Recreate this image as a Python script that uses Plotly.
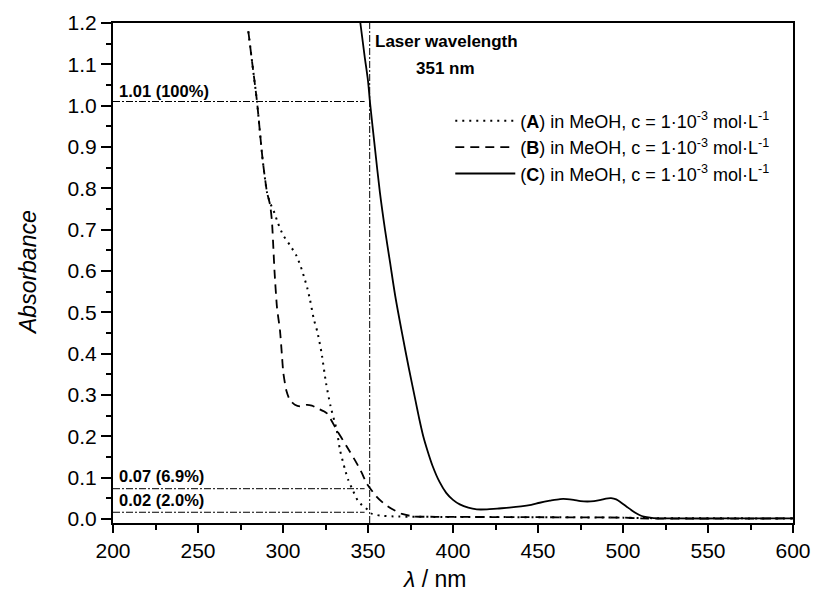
import plotly.graph_objects as go

# ---- data ----
wl_A = [279.6, 282, 284.7, 288, 290.6, 292.4, 295, 297, 300, 304, 308, 310.5, 312.4, 314.2, 315.9,
        318.2, 320.2, 322.7, 325.3, 328, 331.6, 333.5, 336.5, 338.4, 341, 344.3, 349.8, 352, 357,
        365, 380, 450, 500, 510, 600]
abs_A = [1.18, 1.10, 1.01, 0.87, 0.79, 0.765, 0.74, 0.716, 0.687, 0.663, 0.636, 0.61, 0.585, 0.56, 0.53,
         0.482, 0.453, 0.401, 0.329, 0.272, 0.215, 0.167, 0.119, 0.094, 0.07, 0.042, 0.022, 0.013, 0.008,
         0.006, 0.005, 0.004, 0.003, 0.002, 0.001]

wl_B = [279.6, 282, 284.7, 288, 290.6, 292.4, 293.5, 294.4, 295, 296.5, 298.2, 299.3, 300.2, 302, 304,
        307, 310, 314, 317, 320, 325.7, 331.6, 337.5, 343.3, 346.5, 349.2, 355, 360, 365, 370, 376.6,
        390, 450, 500, 510, 600]
abs_B = [1.18, 1.10, 1.01, 0.87, 0.79, 0.76, 0.72, 0.65, 0.60, 0.51, 0.457, 0.40, 0.353, 0.31, 0.288,
         0.276, 0.272, 0.276, 0.274, 0.268, 0.256, 0.215, 0.175, 0.135, 0.11, 0.086, 0.054, 0.035, 0.022,
         0.012, 0.006, 0.005, 0.004, 0.003, 0.001, 0.001]

wl_C = [345.5, 348, 350, 351.2, 354, 357, 360, 363, 366, 370, 374, 378, 380, 382.5, 385, 388, 392, 396, 400,
        404, 409, 414, 420, 426, 433, 440, 446, 451, 457, 463, 467, 471, 475, 479, 483, 487, 490, 493,
        496, 499, 502, 505, 508, 511, 514, 518, 530, 560, 600]
abs_C = [1.20, 1.12, 1.06, 1.007, 0.90, 0.79, 0.70, 0.62, 0.54, 0.45, 0.365, 0.285, 0.245, 0.20, 0.165,
         0.128, 0.09, 0.063, 0.046, 0.035, 0.027, 0.023, 0.023, 0.025, 0.027, 0.030, 0.034, 0.039, 0.044,
         0.048, 0.048, 0.046, 0.043, 0.042, 0.043, 0.046, 0.049, 0.050, 0.047, 0.039, 0.030, 0.021, 0.013,
         0.007, 0.004, 0.002, 0.001, 0.001, 0.001]

laser_wl = 351
ref_levels = [1.01, 0.073, 0.016]
ref_labels = ["1.01 (100%)", "0.07 (6.9%)", "0.02 (2.0%)"]
ref_label_y = [1.036, 0.104, 0.046]
ref_x_range = [200, 348]

legend_names = [
    "(<b>A</b>) in MeOH, c = 1·10<sup>-3</sup> mol·L<sup>-1</sup>",
    "(<b>B</b>) in MeOH, c = 1·10<sup>-3</sup> mol·L<sup>-1</sup>",
    "(<b>C</b>) in MeOH, c = 1·10<sup>-3</sup> mol·L<sup>-1</sup>",
]

FONT = "Liberation Sans, Arial, sans-serif"
refdash = "7px,2px,2px,2px"

fig = go.Figure()

# reference lines
for lvl in ref_levels:
    fig.add_trace(go.Scatter(x=ref_x_range, y=[lvl, lvl], mode="lines",
                             line=dict(color="black", width=1, dash=refdash),
                             showlegend=False, hoverinfo="skip"))
fig.add_trace(go.Scatter(x=[laser_wl, laser_wl], y=[-0.01, 1.2], mode="lines",
                         line=dict(color="black", width=1, dash=refdash),
                         showlegend=False, hoverinfo="skip"))

fig.add_trace(go.Scatter(x=wl_A, y=abs_A, mode="lines", name=legend_names[0],
                         line=dict(color="black", width=2, dash="2px,5px", shape="spline", smoothing=0.6)))
fig.add_trace(go.Scatter(x=wl_B, y=abs_B, mode="lines", name=legend_names[1],
                         line=dict(color="black", width=1.8, dash="9px,6px", shape="spline", smoothing=0.6)))
fig.add_trace(go.Scatter(x=wl_C, y=abs_C, mode="lines", name=legend_names[2],
                         line=dict(color="black", width=1.8, shape="spline", smoothing=0.8)))

for txt, yy in zip(ref_labels, ref_label_y):
    fig.add_annotation(x=202.4, y=yy, text="<b>%s</b>" % txt, showarrow=False,
                       xanchor="left", yanchor="middle",
                       font=dict(family=FONT, size=16.5, color="black"))

fig.add_annotation(x=353.2, y=1.156, text="<b>Laser wavelength</b>", showarrow=False,
                   xanchor="left", yanchor="middle", font=dict(family=FONT, size=17, color="black"))
fig.add_annotation(x=377, y=1.089, text="<b>351 nm</b>", showarrow=False,
                   xanchor="left", yanchor="middle", font=dict(family=FONT, size=17, color="black"))

# axis titles
fig.add_annotation(xref="paper", yref="paper", x=(434 - 113) / 680, y=-0.112,
                   text="<i>λ</i> / nm", showarrow=False, xanchor="center", yanchor="middle",
                   font=dict(family=FONT, size=23, color="black"))
fig.add_annotation(xref="paper", yref="paper", x=(28 - 113) / 680, y=0.5,
                   text="<i>Absorbance</i>", showarrow=False, textangle=-90,
                   xanchor="center", yanchor="middle",
                   font=dict(family=FONT, size=23, color="black"))

axis_common = dict(showline=True, linecolor="black", linewidth=2, mirror=True,
                   ticks="outside", tickwidth=1.5, tickcolor="black",
                   showgrid=False, zeroline=False, automargin=False,
                   tickfont=dict(family=FONT, size=21, color="black"))

fig.update_xaxes(range=[200, 600], tick0=200, dtick=50, ticklen=8,
                 minor=dict(ticks="outside", ticklen=5, tickwidth=1.5, tickcolor="black", dtick=25, tick0=200),
                 **axis_common)
fig.update_yaxes(range=[-0.01, 1.2], tick0=0, dtick=0.1, tickformat=".1f", ticklen=10,
                 minor=dict(ticks="outside", ticklen=5, tickwidth=1.5, tickcolor="black", dtick=0.05, tick0=0),
                 **axis_common)

fig.update_layout(
    width=813, height=603,
    margin=dict(l=113, r=20, t=23, b=80, autoexpand=False),
    plot_bgcolor="white", paper_bgcolor="white",
    font=dict(family=FONT, color="black"),
    legend=dict(x=0.496, y=0.841, xanchor="left", yanchor="top",
                bgcolor="rgba(0,0,0,0)", borderwidth=0,
                font=dict(family=FONT, size=18, color="black"),
                itemwidth=60, tracegroupgap=0),
)

fig.write_html("out.html")
